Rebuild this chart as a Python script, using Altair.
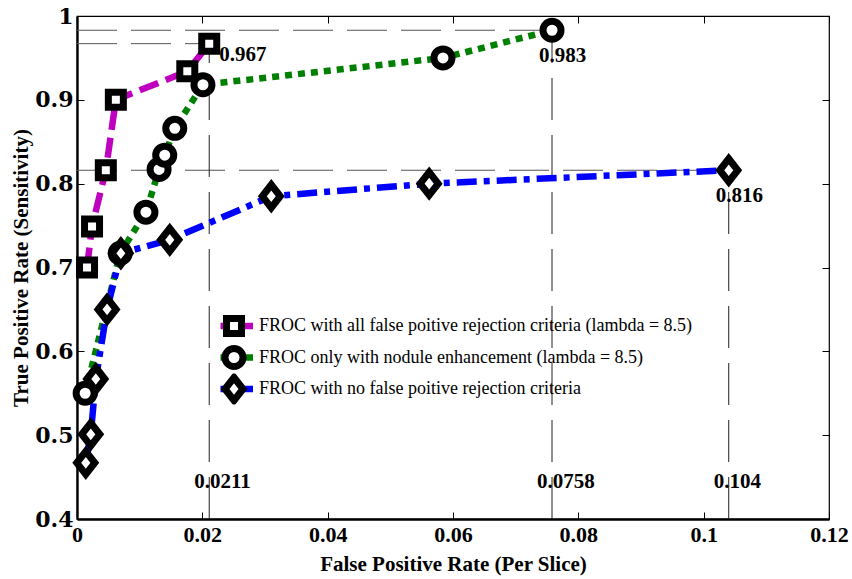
import altair as alt
import pandas as pd

# ---------------- data ----------------
series_names = [
    "FROC with all false poitive rejection criteria (lambda = 8.5)",
    "FROC only with nodule enhancement (lambda = 8.5)",
    "FROC with no false poitive rejection criteria",
]

# FROC with all rejection criteria
all_fp = [0.0016, 0.0024, 0.0046, 0.0062, 0.0176, 0.0211]
all_tp = [0.700, 0.749, 0.816, 0.900, 0.934, 0.967]

# FROC with nodule enhancement only
enh_fp = [0.0013, 0.0069, 0.0110, 0.0131, 0.0140, 0.0156, 0.0201, 0.0584, 0.0758]
enh_tp = [0.550, 0.717, 0.766, 0.817, 0.834, 0.866, 0.918, 0.950, 0.983]

# FROC with no rejection criteria
none_fp = [0.0014, 0.0022, 0.0030, 0.0048, 0.0070, 0.0148, 0.0310, 0.0562, 0.104]
none_tp = [0.467, 0.501, 0.567, 0.650, 0.717, 0.733, 0.785, 0.800, 0.816]

# operating points that are marked with guide lines
op_fp = [0.0211, 0.0758, 0.104]
op_tp = [0.967, 0.983, 0.816]

x_ticks = [0, 0.02, 0.04, 0.06, 0.08, 0.1, 0.12]
y_ticks = [0.4, 0.5, 0.6, 0.7, 0.8, 0.9, 1.0]

x_domain = [0, 0.12]
y_domain = [0.4, 1.0]

# ---------------- tables ----------------
rows = []
for name, fps, tps in zip(series_names, [all_fp, enh_fp, none_fp], [all_tp, enh_tp, none_tp]):
    for i, (a, b) in enumerate(zip(fps, tps)):
        rows.append({"series": name, "marker": name, "fp": a, "tp": b, "idx": i})
curves = pd.DataFrame(rows)

ops = pd.DataFrame({
    "fp": op_fp,
    "tp": op_tp,
    "fp_text": [f"{v:g}" for v in op_fp],
    "tp_text": [f"{v:g}" for v in op_tp],
    "k": [0, 1, 2],
    "x0": [x_domain[0]] * 3,
    "y0": [y_domain[0]] * 3,
})

# ---------------- layout / style ----------------
W, H = 752, 503
SERIF = "Liberation Serif"
colors = ["#BF00BF", "#008000", "#0000FF"]
dashes = [[20, 8], [7, 6], [20, 7, 6, 7]]
square = "M-0.75,-0.75H0.75V0.75H-0.75Z"
circle = "M0.9,0A0.9,0.9,0,1,1,-0.9,0A0.9,0.9,0,1,1,0.9,0Z"
diamond = "M0,-1.15L0.9,0L0,1.15L-0.9,0Z"
MARK_W = 7

xs = alt.Scale(domain=x_domain, nice=False, zero=False)
ys = alt.Scale(domain=y_domain, nice=False, zero=False)

# labelled axes (bottom / left)
x_main = alt.Axis(values=x_ticks, format=".3~g", title="False Positive Rate (Per Slice)",
                  ticks=False, domainWidth=2.4, domainColor="black",
                  labelFont=SERIF, labelFontWeight="bold", labelFontSize=22, labelColor="black",
                  labelPadding=5, titleFont=SERIF, titleFontWeight="bold", titleFontSize=21,
                  titleColor="black", titlePadding=8, labelFlush=False)
y_main = alt.Axis(values=y_ticks, format=".3~g", title="True Positive Rate (Sensitivity)",
                  ticks=False, domainWidth=2.4, domainColor="black",
                  labelFont="DejaVu Serif", labelFontWeight="bold", labelFontSize=22,
                  labelColor="black", labelPadding=4, titleFont=SERIF, titleFontWeight="bold",
                  titleFontSize=21, titleColor="black", titlePadding=3, labelFlush=False)


def tick_axis(orient, values, offset):
    # tick-only axis moved onto the opposite edge so its ticks point into the plot
    return alt.Axis(orient=orient, values=values, offset=offset, labels=False, domain=False,
                    title=None, ticks=True, tickSize=7, tickColor="black", tickWidth=1)


# both legends share one grid so the coloured segments sit behind the markers
legend_common = dict(title=None, orient="none", legendX=143.5, legendY=294.5, rowPadding=0.5,
                     clipHeight=31, padding=0, labelOffset=11.5, labelFontSize=18,
                     labelFont=SERIF, labelColor="black", labelLimit=800)

# ---------------- layers ----------------
hrules = alt.Chart(ops).mark_rule(color="#555555", strokeWidth=1, strokeDash=[40, 14]).encode(
    x=alt.X("x0:Q", scale=xs, axis=x_main),
    x2="fp:Q",
    y=alt.Y("tp:Q", scale=ys, axis=y_main),
)

vrules = alt.Chart(ops).mark_rule(color="#222222", strokeWidth=1, strokeDash=[42, 15]).encode(
    x=alt.X("fp:Q", scale=xs, axis=tick_axis("top", x_ticks, -H)),
    y=alt.Y("y0:Q", scale=ys, axis=tick_axis("right", y_ticks, -W)),
    y2="tp:Q",
)

lines = alt.Chart(curves).mark_line(strokeWidth=6.5, strokeCap="butt").encode(
    x=alt.X("fp:Q", scale=xs, axis=tick_axis("bottom", x_ticks, -H)),
    y=alt.Y("tp:Q", scale=ys, axis=tick_axis("left", y_ticks, -W)),
    color=alt.Color("series:N", scale=alt.Scale(domain=series_names, range=colors),
                    legend=alt.Legend(symbolType="M-1.855,0H1.855", symbolSize=420,
                                      symbolStrokeWidth=6.5, labelOpacity=0, labelExpr="''",
                                      **legend_common)),
    strokeDash=alt.StrokeDash("series:N", scale=alt.Scale(domain=series_names, range=dashes),
                              legend=None),
    order="idx:Q",
)

points = alt.Chart(curves).mark_point(
    filled=True, fill="white", stroke="black", strokeWidth=MARK_W, size=400, opacity=1
).encode(
    x=alt.X("fp:Q", scale=xs, axis=None),
    y=alt.Y("tp:Q", scale=ys, axis=None),
    shape=alt.Shape("marker:N", scale=alt.Scale(domain=series_names, range=[square, circle, diamond]),
                    legend=alt.Legend(symbolSize=400, symbolStrokeWidth=MARK_W, **legend_common)),
    order="idx:Q",
)

text_style = dict(font=SERIF, fontWeight="bold", fontSize=21, align="left", baseline="middle",
                  color="black")

label_first = alt.Chart(ops).transform_filter("datum.k == 0").mark_text(dx=10, dy=11, **text_style).encode(
    x=alt.X("fp:Q", scale=xs, axis=None), y=alt.Y("tp:Q", scale=ys, axis=None), text="tp_text:N")

label_rest = alt.Chart(ops).transform_filter("datum.k > 0").mark_text(dx=-13, dy=26, **text_style).encode(
    x=alt.X("fp:Q", scale=xs, axis=None), y=alt.Y("tp:Q", scale=ys, axis=None), text="tp_text:N")

label_fp = alt.Chart(ops).mark_text(dx=-15, dy=-37, **text_style).encode(
    x=alt.X("fp:Q", scale=xs, axis=None), y=alt.Y("y0:Q", scale=ys, axis=None), text="fp_text:N")

chart = alt.layer(
    hrules, vrules, lines, points, label_first, label_rest, label_fp
).resolve_axis(
    x="independent", y="independent"
).resolve_legend(
    color="independent", shape="independent"
).properties(
    width=W, height=H,
    autosize=alt.AutoSizeParams(type="none"),
    padding={"left": 77, "top": 16, "right": 23, "bottom": 60},
    background="white",
).configure_view(
    stroke="black", strokeWidth=1.2
).configure_axis(
    grid=False
)

chart.save("out.html", embed_options={"renderer": "svg", "actions": False})
